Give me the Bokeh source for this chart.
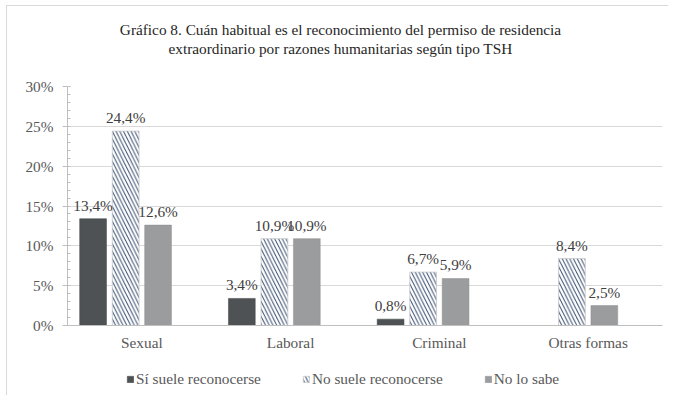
from bokeh.plotting import figure
from bokeh.layouts import column
from bokeh.models import (ColumnDataSource, FactorRange, FixedTicker, LabelSet, Label,
                          Legend, LegendItem, Range1d)
from bokeh.transform import dodge
from bokeh.embed import file_html
from bokeh.resources import INLINE

categories = ["Sexual", "Laboral", "Criminal", "Otras formas"]
si_suele = [13.4, 3.4, 0.8, 0.0]
no_suele = [24.4, 10.9, 6.7, 8.4]
no_sabe = [12.6, 10.9, 5.9, 2.5]
series_names = ["Sí suele reconocerse", "No suele reconocerse", "No lo sabe"]
y_ticks = [0, 5, 10, 15, 20, 25, 30]
y_tick_labels = ["0%", "5%", "10%", "15%", "20%", "25%", "30%"]
title_line1 = "Gráfico 8. Cuán habitual es el reconocimiento del permiso de residencia"
title_line2 = "extraordinario por razones humanitarias según tipo TSH"

FONT = "Liberation Serif"
FS = "15.3px"
TXT = "#595959"
DARK = "#4e5254"
LIGHT = "#9a9c9d"
HATCH = "#34496c"
W = 661
BL, BR = 60, 6          # left / right borders shared by all stacked figures

STYLE = [
    dict(fill_color=DARK, line_color="#3f4244", line_width=0.5),
    dict(fill_color="white", line_color="#c8c8c8", line_width=0.8,
         hatch_pattern="\\", hatch_color=HATCH, hatch_scale=7.5, hatch_weight=1.0),
    dict(fill_color=LIGHT, line_color="#8d8f90", line_width=0.5),
]


def fmt(v):
    return ("%.1f%%" % v).replace(".", ",") if v > 0 else ""


def blank_fig(h, yr):
    # page-pixel x coordinates: frame spans page x 67..662
    f = figure(width=W, height=h, x_range=Range1d(67, 662), y_range=yr,
               x_axis_location=None, y_axis_location=None,
               output_backend="svg", toolbar_location=None,
               min_border_left=BL, min_border_right=BR,
               min_border_top=0, min_border_bottom=0)
    f.outline_line_color = None
    f.xgrid.visible = False
    f.ygrid.visible = False
    return f


# ---------- title ----------
TH = 70
tf = blank_fig(TH, Range1d(TH, 0))
for txt, yy in zip([title_line1, title_line2], [23, 42]):
    tf.add_layout(Label(x=340, y=yy, text=txt, text_align="center", text_baseline="middle",
                        text_font=FONT, text_font_size=FS, text_color="#262626"))

# ---------- main chart ----------
src = ColumnDataSource(dict(
    cat=categories,
    si=si_suele, no=no_suele, ns=no_sabe,
    si_l=[fmt(v) for v in si_suele],
    no_l=[fmt(v) for v in no_suele],
    ns_l=[fmt(v) for v in no_sabe],
))

p = figure(width=W, height=10 + 239 + 30, x_range=FactorRange(*categories), y_range=(0, 30),
           output_backend="svg", toolbar_location=None,
           min_border_left=BL, min_border_right=BR, min_border_top=10, min_border_bottom=30)
p.outline_line_color = None
p.x_range.range_padding = 0

off = [-0.328, -0.109, 0.109]
bw = 0.18
for o, col, st in zip(off, ["si", "no", "ns"], STYLE):
    p.vbar(x=dodge("cat", o, range=p.x_range), top=col, width=bw, source=src, **st)
    p.add_layout(LabelSet(x=dodge("cat", o, range=p.x_range), y=col, text=col + "_l",
                          source=src, text_align="center", text_baseline="bottom",
                          y_offset=5, text_font=FONT, text_font_size=FS,
                          text_color="#404040"))

p.xgrid.grid_line_color = None
p.ygrid.grid_line_color = "#d9d9d9"
p.ygrid.ticker = FixedTicker(ticks=y_ticks)

ya = p.yaxis[0]
ya.ticker = FixedTicker(ticks=y_ticks, minor_ticks=list(range(0, 31)))
ya.major_label_overrides = {t: l for t, l in zip(y_ticks, y_tick_labels)}
ya.major_label_text_font = FONT
ya.major_label_text_font_size = FS
ya.major_label_text_color = TXT
ya.axis_line_color = "#bfbfbf"
ya.major_tick_line_color = "#bfbfbf"
ya.minor_tick_line_color = "#bfbfbf"
ya.major_tick_out = 5
ya.major_tick_in = 0
ya.minor_tick_in = 3
ya.minor_tick_out = 0
ya.major_label_standoff = 9

xa = p.xaxis[0]
xa.axis_line_color = "#bfbfbf"
xa.major_tick_line_color = None
xa.minor_tick_line_color = None
xa.major_tick_out = 0
xa.major_tick_in = 0
xa.major_label_text_font = FONT
xa.major_label_text_font_size = FS
xa.major_label_text_color = TXT
xa.major_label_standoff = 8

# ---------- legend ----------
LH = 40
lf = blank_fig(LH, Range1d(0, LH))
items = []
for name, st in zip(series_names, STYLE):
    # legend swatch proxies (zero size, outside the visible range)
    r = lf.vbar(x=[0], top=[0], width=0, **st)
    items.append(LegendItem(label=name, renderers=[r]))
legend = Legend(items=items, orientation="horizontal", location=(59, 7),
                glyph_width=8, glyph_height=8, label_standoff=2, spacing=41,
                label_height=17, padding=0, margin=0, border_line_color=None,
                background_fill_alpha=0, label_text_font=FONT, label_text_font_size=FS,
                label_text_color=TXT)
lf.add_layout(legend, "center")

layout = column(tf, p, lf, spacing=0)
layout.styles = {"border-left": "1px solid #d9d9d9", "border-top": "1px solid #d9d9d9",
                 "margin-left": "6px", "margin-top": "5px"}

open("out.html", "w").write(file_html(layout, INLINE))
